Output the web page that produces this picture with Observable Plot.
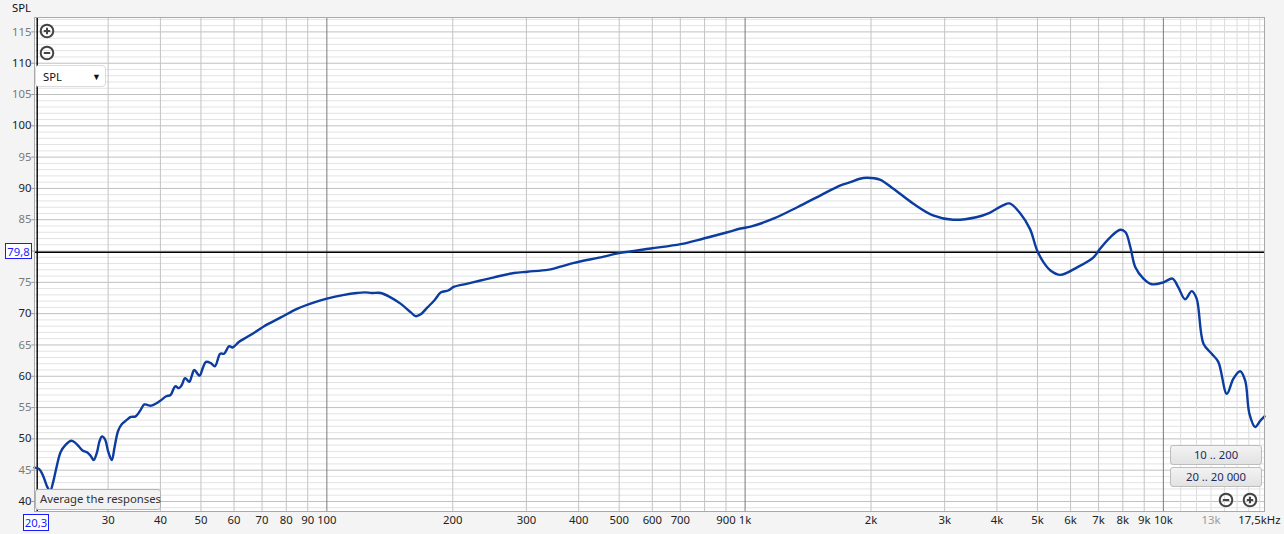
<!DOCTYPE html>
<html><head><meta charset="utf-8">
<script src="https://cdn.jsdelivr.net/npm/d3@7"></script>
<script src="https://cdn.jsdelivr.net/npm/@observablehq/plot@0.6"></script>
<style>
html,body{margin:0;padding:0;background:#f4f4f4;}
#wrap{position:relative;width:1284px;height:534px;overflow:hidden;font-family:"Noto Sans",sans-serif;color:#222;}
#wrap svg{display:block;}
.ov{position:absolute;box-sizing:border-box;font-size:11.3px;line-height:1;white-space:nowrap;}
.btn{background:linear-gradient(#f3f3f3,#e2e2e2);border:1px solid #bdbdbd;border-radius:3px;text-align:center;padding-top:3px;color:#1d2a5e;}
.tip{background:#f2f2f2;border:1px solid #b5b5b5;border-radius:3px;padding:3px 0 0 4px;color:#333;}
.drop{background:#fff;border:1px solid #dcdcdc;border-radius:4px;padding:5px 0 0 7px;color:#111;}
.cur{border:1px solid #1a1aff;background:#fff;color:#1a1aff;text-align:center;padding-top:2px;}
</style></head><body><div id="wrap"></div>
<script>
// Frequency response (Hz, dB SPL)
const freq = [20,20.5,21.0,21.5,21.8,22.2,22.6,23.1,23.7,24.5,25.0,25.6,26.1,26.8,27.3,27.7,28.2,28.6,29.0,29.5,30.0,30.6,31.1,31.7,32.4,33.2,34.0,34.9,35.7,36.6,37.3,38.0,39.8,41.3,42.3,43.4,44.3,45.0,45.8,46.9,47.5,48.2,49.6,50.5,51.4,52.8,54.0,55.6,56.8,58.4,59.5,61.7,64.6,68.3,70.8,77.6,85.1,93.3,100,110,118,123,128,134.6,142,150,158.8,163,167.7,174,180.6,187.5,195,201.6,217,233,251,280,302,337,349,390,451.6,504,594.6,701,796,907,975,1031,1172,1333,1515,1691,1786,1870,1959,2099,2257,2520,2813,3141,3569,3843,4135,4290,4551,4800,4991,5171,5370,5673,6220,6808,7063,7464,7888,8120,8340,8570,8960,9380,10000,10515,10860,11270,11690,12010,12470,13050,13530,14180,14700,15260,15690,16060,16580,17050,17450];
const spl = [45.4,45.2,44.0,42.2,41.7,43.3,45.6,47.9,49.0,49.7,49.4,48.7,48.1,47.8,47.2,46.6,47.8,49.6,50.4,49.9,48.0,46.6,48.8,51.3,52.4,53.0,53.5,53.6,54.4,55.5,55.4,55.3,56.0,56.8,57.0,58.4,58.1,58.6,59.7,59.1,60.0,61.0,60.1,61.3,62.3,62.1,61.6,63.6,63.6,64.8,64.6,65.5,66.3,67.3,68.0,69.4,70.8,71.8,72.4,73.0,73.3,73.4,73.3,73.3,72.6,71.6,70.2,69.6,69.9,71.0,72.1,73.4,73.7,74.3,74.8,75.3,75.8,76.5,76.7,77.0,77.2,78.1,79.0,79.7,80.4,81.1,82.0,83.0,83.6,83.9,85.2,87.0,88.9,90.5,91.0,91.5,91.7,91.4,90.0,87.6,85.7,85.0,85.4,86.1,87.3,87.6,86.0,83.5,80.1,78.2,76.9,76.2,77.4,79.0,80.4,82.2,83.4,83.0,80.6,77.4,75.6,74.7,75.0,75.6,74.2,72.3,73.6,72.4,65.2,63.6,62.3,57.2,59.6,60.8,59.3,54.0,51.9,52.9,53.6];

// Axis tick labels
const yTicksDark = [40,50,60,70,90,100,110];
const yTicksGray = [45,55,65,75,85,95,105,115];
const xTicks = [30,40,50,60,70,80,90,100,200,300,400,500,600,700,900,1000,2000,3000,4000,5000,6000,7000,8000,9000,10000];
const xTicksGray = [13000];
const xEndLabel = "17,5kHz";
const cursorFreq = 20.3, cursorFreqLabel = "20,3";
const cursorSpl = 79.8, cursorSplLabel = "79,8";

const data = freq.map((f, i) => ({f, db: spl[i]}));

// grid lines
const hFine = d3.range(39, 118).filter(v => v % 5 !== 0);
const h5 = d3.range(40, 118, 5);
const vGrid = [30,40,50,60,70,80,90,200,300,400,500,600,700,800,900,2000,3000,4000,5000,6000,7000,8000,9000];
const vFine = [11000,12000,13000,14000,15000,16000,17000];
const vDec = [100,1000,10000];

const fmt = f => f >= 1000 ? (f/1000) + "k" : String(f);
const FS = 11.3;

const chart = Plot.plot({
  width: 1284, height: 534,
  marginLeft: 34, marginRight: 20, marginTop: 17, marginBottom: 23,
  x: {type: "log", domain: [20, 17450], axis: null},
  y: {domain: [38.4, 117.3], axis: null},
  style: {background: "transparent", fontFamily: "'Noto Sans', sans-serif", fontSize: FS + "px"},
  marks: [
    Plot.frame({fill: "white", stroke: null}),
    Plot.ruleY(hFine, {stroke: "#e3e3e3"}),
    Plot.ruleY(h5, {stroke: "#c0c0c0"}),
    Plot.ruleX(vFine, {stroke: "#dddddd"}),
    Plot.ruleX(vGrid, {stroke: "#c4c4c4"}),
    Plot.ruleX(vDec, {stroke: "#7a7a7a"}),
    Plot.ruleY([cursorSpl], {stroke: "#000", strokeWidth: 1.4}),
    Plot.ruleX([cursorFreq], {stroke: "#000", strokeWidth: 1.4}),
    Plot.line(data, {x: "f", y: "db", stroke: "#0b3c9f", strokeWidth: 2.4, curve: "catmull-rom"}),
    Plot.frame({stroke: "#a9a9a9"}),
    Plot.ruleY(h5, {x1: 19.7, x2: 20, stroke: "#999"}),
    Plot.text(yTicksDark, {y: d => d, frameAnchor: "left", textAnchor: "end", dx: -3, fill: "#222", fontSize: FS}),
    Plot.text(yTicksGray, {y: d => d, frameAnchor: "left", textAnchor: "end", dx: -3, fill: "#7a7a7a", fontSize: FS}),
    Plot.text(xTicks, {x: d => d, text: fmt, frameAnchor: "bottom", dy: 12, fill: "#222", fontSize: FS}),
    Plot.text(xTicksGray, {x: d => d, text: fmt, frameAnchor: "bottom", dy: 12, fill: "#9a9a9a", fontSize: FS}),
    Plot.text([xEndLabel], {x: 17450, frameAnchor: "bottom", dy: 12, textAnchor: "end", dx: 16, fill: "#222", fontSize: FS})
  ]
});

const wrap = document.getElementById("wrap");
function ov(cls, x, y, w, h, html) {
  const d = document.createElement("div");
  d.className = "ov " + cls;
  Object.assign(d.style, {left: x + "px", top: y + "px", width: w + "px", height: h + "px"});
  d.innerHTML = html || "";
  wrap.appendChild(d);
  return d;
}
wrap.appendChild(chart);
chart.style.position = "absolute"; chart.style.left = "0"; chart.style.top = "0";

// cursor value boxes
ov("cur", 5, 243, 27, 16, cursorSplLabel);
ov("cur", 23, 514, 26, 17, cursorFreqLabel);

ov("", 12, 2, 30, 14, "SPL").style.color = "#111";
const plus = '<svg width="16" height="16" viewBox="0 0 16 16"><circle cx="8" cy="8" r="6.3" fill="none" stroke="#444" stroke-width="2"/><path d="M4.8 8H11.2M8 4.8V11.2" stroke="#444" stroke-width="2"/></svg>';
const minus = '<svg width="16" height="16" viewBox="0 0 16 16"><circle cx="8" cy="8" r="6.3" fill="none" stroke="#444" stroke-width="2"/><path d="M4.8 8H11.2" stroke="#444" stroke-width="2"/></svg>';
ov("", 39, 23, 16, 16, plus);
ov("", 39, 45, 16, 16, minus);
ov("drop", 35, 65, 71, 22, 'SPL<span style="position:absolute;left:56px;top:6px;font-size:9px;">&#9660;</span>');
ov("tip", 35, 489, 126, 21, "Average the responses");
ov("btn", 1170, 445, 92, 20, "10 .. 200");
ov("btn", 1170, 467, 92, 20, "20 .. 20 000");
ov("", 1218, 492, 16, 16, minus);
ov("", 1242, 492, 16, 16, plus);
</script>
</body></html>
